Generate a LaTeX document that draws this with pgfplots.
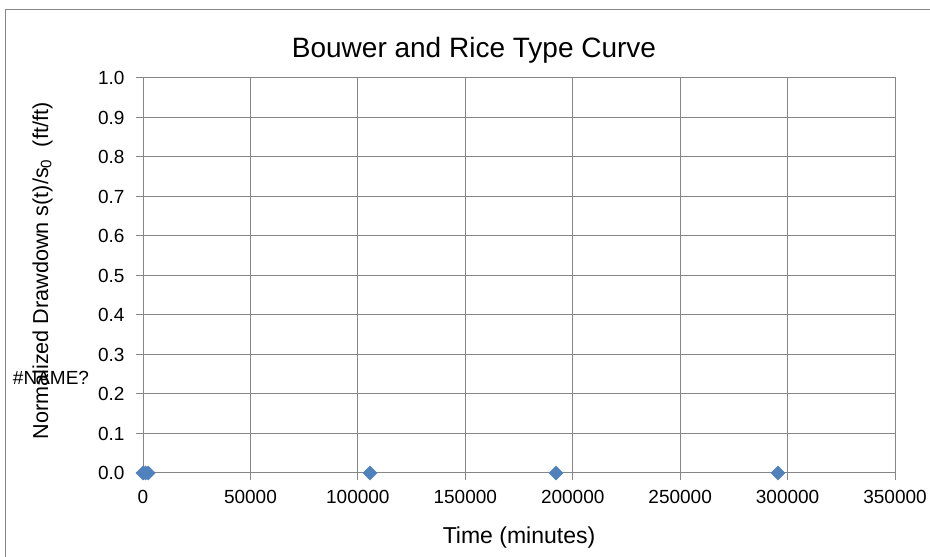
\documentclass[border=0pt]{standalone}
\usepackage{fontspec}
\setmainfont{Liberation Sans}
\usepackage{pgfplots}
\pgfplotsset{compat=1.18}
\definecolor{gridgray}{RGB}{134,134,134}
\definecolor{ptblue}{RGB}{79,129,189}
\begin{document}
\begin{tikzpicture}[x=1bp,y=1bp]
\useasboundingbox (0,0) rectangle (930,557);
\draw[gridgray, line width=1bp] (5,-20) rectangle (950,547);
\begin{axis}[
  at={(143bp,84bp)}, anchor=south west,
  scale only axis, width=752bp, height=395bp,
  xmin=0, xmax=350000, ymin=0, ymax=1,
  xtick={0,50000,100000,150000,200000,250000,300000,350000},
  ytick={0,0.1,0.2,0.3,0.4,0.5,0.6,0.7,0.8,0.9,1.0},
  xtick pos=bottom, ytick pos=left,
  scaled x ticks=false,
  xticklabel style={/pgf/number format/.cd, fixed, 1000 sep={}, /tikz/.cd, yshift=-7bp},
  yticklabel style={/pgf/number format/.cd, fixed, fixed zerofill, precision=1, /tikz/.cd, xshift=-8bp},
  /pgf/number format/assume math mode=true,
  ticklabel style={font=\fontsize{19bp}{22bp}\selectfont, text=black},
  tick align=outside, major tick length=7bp,
  xmajorgrids, ymajorgrids,
  grid style={gridgray, line width=1bp},
  axis line style={gridgray, line width=1bp},
  every tick/.style={gridgray, line width=1bp},
  clip=false,
]
\addplot[only marks, mark=square*, mark size=5bp, mark options={rotate=45, fill=ptblue, draw=ptblue}]
  coordinates {(0,0) (1200,0) (2400,0) (105650,0) (192200,0) (295500,0)};
\end{axis}
\node[anchor=base, font=\fontsize{28bp}{32bp}\selectfont] at (474,499) {Bouwer and Rice Type Curve};
\node[anchor=base, font=\fontsize{23bp}{27bp}\selectfont] at (519,13) {Time (minutes)};
\node[anchor=base, rotate=90, font=\fontsize{21.6bp}{25bp}\selectfont] at (48,286) {Normalized Drawdown s(t)/s\textsubscript{0}\ \ (ft/ft)};
\node[anchor=base, font=\fontsize{19bp}{22bp}\selectfont] at (51,172) {\#NAME?};
\end{tikzpicture}
\end{document}
